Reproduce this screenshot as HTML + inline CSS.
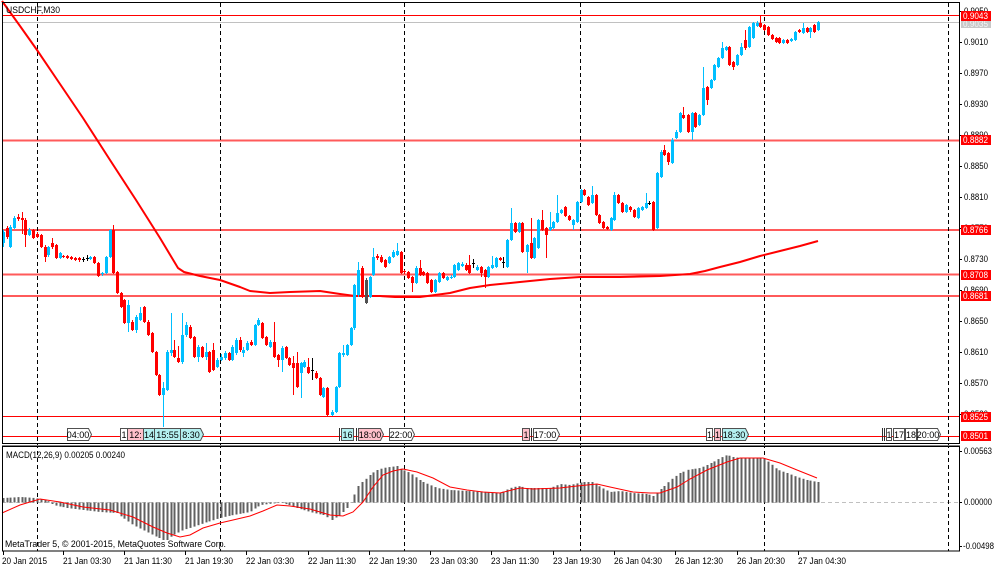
<!DOCTYPE html>
<html><head><meta charset="utf-8">
<style>
html,body{margin:0;padding:0;background:#fff;}
svg{display:block;font-family:"Liberation Sans",sans-serif;}
</style></head><body>
<svg id="c" width="1000" height="571" viewBox="0 0 1000 571" xmlns="http://www.w3.org/2000/svg">
<rect width="1000" height="571" fill="#fff"/>

<!-- horizontal level lines -->
<line x1="2" y1="22.5" x2="959" y2="22.5" stroke="#c0c0c0" stroke-width="1"/>
<line x1="2" y1="15.5" x2="959" y2="15.5" stroke="#ff0000" stroke-width="1"/>
<line x1="2" y1="140.5" x2="959" y2="140.5" stroke="#ff5a5a" stroke-width="2"/>
<line x1="2" y1="230" x2="959" y2="230" stroke="#ff5a5a" stroke-width="2"/>
<line x1="2" y1="274.5" x2="959" y2="274.5" stroke="#ff5a5a" stroke-width="2"/>
<line x1="2" y1="296" x2="959" y2="296" stroke="#ff5a5a" stroke-width="2"/>
<line x1="2" y1="416.5" x2="959" y2="416.5" stroke="#ff0000" stroke-width="1"/>
<line x1="2" y1="436.5" x2="959" y2="436.5" stroke="#ff0000" stroke-width="1"/>

<!-- MACD zero line -->
<line x1="2" y1="502.5" x2="959" y2="502.5" stroke="#c0c0c0" stroke-width="1" stroke-dasharray="4,3"/>

<!-- vertical period separators -->
<g stroke="#000" stroke-width="1" stroke-dasharray="4,3">
<line x1="37.5" y1="3" x2="37.5" y2="551"/>
<line x1="220.5" y1="3" x2="220.5" y2="551"/>
<line x1="404.5" y1="3" x2="404.5" y2="551"/>
<line x1="580.5" y1="3" x2="580.5" y2="551"/>
<line x1="764.5" y1="3" x2="764.5" y2="551"/>
<line x1="948.5" y1="3" x2="948.5" y2="551"/>
</g>

<!-- moving average -->
<polyline fill="none" stroke="#ff0000" stroke-width="2" stroke-linejoin="round" points="2,1 20,26 37,50 60,84 83,118 110,160 136,200 160,238 178,268 184,272 200,276 220,280 240,287 250,291 270,293 290,292 320,291 340,294 355,296 380,296 395,297 420,297 435,295 450,293 470,288 490,285 520,282 550,279 580,277 620,277 660,276 690,274 705,271 720,267 740,262 760,256 780,251 800,246 818,241"/>

<g id="cand"></g>
<g id="hist"></g>
<polyline id="sig" fill="none" stroke="#ff0000" stroke-width="1" points=""/>

<!-- event labels row -->
<g font-size="9" stroke-width="1" text-anchor="middle">
<path d="M67.5 428.5H88.5L91.5 434.5L88.5 440.5H67.5Z" fill="#fff" stroke="#505050"/>
<text x="78" y="438" fill="#000">04:00</text>
<rect x="120.5" y="428.5" width="7" height="12" fill="#fff" stroke="#505050"/>
<text x="124" y="438" fill="#000">1</text>
<rect x="127.5" y="428.5" width="16" height="12" fill="#ffc0cb" stroke="#505050"/>
<text x="135.5" y="438" fill="#000">12:</text>
<rect x="143.5" y="428.5" width="11" height="12" fill="#b4f0f0" stroke="#505050"/>
<text x="149" y="438" fill="#000">14</text>
<rect x="154.5" y="428.5" width="26" height="12" fill="#b4f0f0" stroke="#505050"/>
<text x="167.5" y="438" fill="#000">15:55</text>
<path d="M180.5 428.5H200.5L203.5 434.5L200.5 440.5H180.5Z" fill="#b4f0f0" stroke="#505050"/>
<text x="191" y="438" fill="#000">8:30</text>

<line x1="339.5" y1="428" x2="339.5" y2="441" stroke="#303030"/>
<rect x="341.5" y="428.5" width="12" height="12" fill="#b4f0f0" stroke="#505050"/>
<text x="347.5" y="438" fill="#000">16</text>
<line x1="356.5" y1="428" x2="356.5" y2="441" stroke="#303030"/>
<path d="M358.5 428.5H380.5L383.5 434.5L380.5 440.5H358.5Z" fill="#ffc0cb" stroke="#505050"/>
<text x="370" y="438" fill="#000">18:00</text>
<path d="M389.5 428.5H411.5L414.5 434.5L411.5 440.5H389.5Z" fill="#fff" stroke="#505050"/>
<text x="401" y="438" fill="#000">22:00</text>

<rect x="522.5" y="428.5" width="7" height="12" fill="#ffc0cb" stroke="#505050"/>
<text x="526" y="438" fill="#000">1</text>
<line x1="531.5" y1="428" x2="531.5" y2="441" stroke="#303030"/>
<path d="M533.5 428.5H556.5L559.5 434.5L556.5 440.5H533.5Z" fill="#fff" stroke="#505050"/>
<text x="545" y="438" fill="#000">17:00</text>

<rect x="706.5" y="428.5" width="6" height="12" fill="#fff" stroke="#505050"/>
<text x="709.5" y="438" fill="#000">1</text>
<rect x="714.5" y="428.5" width="6" height="12" fill="#ffc0cb" stroke="#505050"/>
<text x="717.5" y="438" fill="#000">1</text>
<path d="M722.5 428.5H745.5L748.5 434.5L745.5 440.5H722.5Z" fill="#b4f0f0" stroke="#505050"/>
<text x="734" y="438" fill="#000">18:30</text>

<line x1="882.5" y1="428" x2="882.5" y2="441" stroke="#303030"/>
<line x1="884.5" y1="428" x2="884.5" y2="441" stroke="#303030"/>
<rect x="886.5" y="428.5" width="5" height="12" fill="#fff" stroke="#505050"/>
<text x="889" y="438" fill="#000">1</text>
<rect x="893.5" y="428.5" width="11" height="12" fill="#fff" stroke="#505050"/>
<text x="899" y="438" fill="#000">17</text>
<rect x="905.5" y="428.5" width="11" height="12" fill="#fff" stroke="#505050"/>
<text x="911" y="438" fill="#000">18</text>
<path d="M917.5 428.5H937.5L940.5 434.5L937.5 440.5H917.5Z" fill="#fff" stroke="#505050"/>
<text x="928" y="438" fill="#000">20:00</text>
</g>

<!-- panel borders -->
<rect x="2.5" y="2.5" width="957" height="441" fill="none" stroke="#000" stroke-width="1"/>
<line x1="2" y1="445.5" x2="960" y2="445.5" stroke="#808080" stroke-width="1"/>
<rect x="2.5" y="446.5" width="957" height="104.5" fill="none" stroke="#000" stroke-width="1"/>

<!-- titles -->
<text x="6" y="13" font-size="9" fill="#000" textLength="54" lengthAdjust="spacingAndGlyphs">USDCHF,M30</text>
<text x="6" y="458" font-size="9" fill="#000" textLength="119" lengthAdjust="spacingAndGlyphs">MACD(12,26,9) 0.00205 0.00240</text>
<text x="5" y="547" font-size="9" fill="#000" textLength="221" lengthAdjust="spacingAndGlyphs">MetaTrader 5, © 2001-2015, MetaQuotes Software Corp.</text>

<!-- right price axis -->
<g stroke="#000" stroke-width="1">
<line x1="959" y1="11.5" x2="962" y2="11.5"/>
<line x1="959" y1="42.5" x2="962" y2="42.5"/>
<line x1="959" y1="73.5" x2="962" y2="73.5"/>
<line x1="959" y1="104.5" x2="962" y2="104.5"/>
<line x1="959" y1="135.5" x2="962" y2="135.5"/>
<line x1="959" y1="166.5" x2="962" y2="166.5"/>
<line x1="959" y1="197.5" x2="962" y2="197.5"/>
<line x1="959" y1="228.5" x2="962" y2="228.5"/>
<line x1="959" y1="259.5" x2="962" y2="259.5"/>
<line x1="959" y1="290.5" x2="962" y2="290.5"/>
<line x1="959" y1="321.5" x2="962" y2="321.5"/>
<line x1="959" y1="352.5" x2="962" y2="352.5"/>
<line x1="959" y1="383.5" x2="962" y2="383.5"/>
<line x1="959" y1="414.5" x2="962" y2="414.5"/>
<line x1="959" y1="451.5" x2="962" y2="451.5"/>
<line x1="959" y1="502.5" x2="962" y2="502.5"/>
<line x1="959" y1="546.5" x2="962" y2="546.5"/>
</g>
<g font-size="9" fill="#000">
<text x="964" y="14" textLength="24" lengthAdjust="spacingAndGlyphs">0.9050</text>
<text x="964" y="45" textLength="24" lengthAdjust="spacingAndGlyphs">0.9010</text>
<text x="964" y="76" textLength="24" lengthAdjust="spacingAndGlyphs">0.8970</text>
<text x="964" y="107" textLength="24" lengthAdjust="spacingAndGlyphs">0.8930</text>
<text x="964" y="138" textLength="24" lengthAdjust="spacingAndGlyphs">0.8890</text>
<text x="964" y="169" textLength="24" lengthAdjust="spacingAndGlyphs">0.8850</text>
<text x="964" y="200" textLength="24" lengthAdjust="spacingAndGlyphs">0.8810</text>
<text x="964" y="231" textLength="24" lengthAdjust="spacingAndGlyphs">0.8770</text>
<text x="964" y="262" textLength="24" lengthAdjust="spacingAndGlyphs">0.8730</text>
<text x="964" y="293" textLength="24" lengthAdjust="spacingAndGlyphs">0.8690</text>
<text x="964" y="324" textLength="24" lengthAdjust="spacingAndGlyphs">0.8650</text>
<text x="964" y="355" textLength="24" lengthAdjust="spacingAndGlyphs">0.8610</text>
<text x="964" y="386" textLength="24" lengthAdjust="spacingAndGlyphs">0.8570</text>
<text x="964" y="417" textLength="24" lengthAdjust="spacingAndGlyphs">0.8530</text>
<text x="964" y="454" textLength="28" lengthAdjust="spacingAndGlyphs">0.00563</text>
<text x="964" y="505" textLength="28" lengthAdjust="spacingAndGlyphs">0.00000</text>
<text x="963" y="549" textLength="31" lengthAdjust="spacingAndGlyphs">-0.00498</text>
</g>

<!-- price marker boxes -->
<g font-size="9">
<rect x="961" y="20" width="30" height="8" fill="#c8c8c8"/>
<text x="963" y="27" fill="#f4f4f4" textLength="25" lengthAdjust="spacingAndGlyphs">0.9035</text>
<rect x="961" y="11" width="30" height="10" fill="#ff0000"/>
<text x="963" y="19" fill="#fff" textLength="25" lengthAdjust="spacingAndGlyphs">0.9043</text>
<rect x="961" y="135" width="30" height="10" fill="#ff0000"/>
<text x="963" y="143" fill="#fff" textLength="25" lengthAdjust="spacingAndGlyphs">0.8882</text>
<rect x="961" y="225" width="30" height="10" fill="#ff0000"/>
<text x="963" y="233" fill="#fff" textLength="25" lengthAdjust="spacingAndGlyphs">0.8766</text>
<rect x="961" y="270" width="30" height="10" fill="#ff0000"/>
<text x="963" y="278" fill="#fff" textLength="25" lengthAdjust="spacingAndGlyphs">0.8708</text>
<rect x="961" y="291" width="30" height="10" fill="#ff0000"/>
<text x="963" y="299" fill="#fff" textLength="25" lengthAdjust="spacingAndGlyphs">0.8681</text>
<rect x="961" y="412" width="30" height="10" fill="#ff0000"/>
<text x="963" y="420" fill="#fff" textLength="25" lengthAdjust="spacingAndGlyphs">0.8525</text>
<rect x="961" y="431" width="30" height="10" fill="#ff0000"/>
<text x="963" y="439" fill="#fff" textLength="25" lengthAdjust="spacingAndGlyphs">0.8501</text>
</g>

<!-- bottom time axis -->
<g stroke="#000" stroke-width="1">
<line x1="3.5" y1="551" x2="3.5" y2="555"/>
<line x1="63.5" y1="551" x2="63.5" y2="555"/>
<line x1="124.5" y1="551" x2="124.5" y2="555"/>
<line x1="185.5" y1="551" x2="185.5" y2="555"/>
<line x1="246.5" y1="551" x2="246.5" y2="555"/>
<line x1="308.5" y1="551" x2="308.5" y2="555"/>
<line x1="369.5" y1="551" x2="369.5" y2="555"/>
<line x1="430.5" y1="551" x2="430.5" y2="555"/>
<line x1="491.5" y1="551" x2="491.5" y2="555"/>
<line x1="553.5" y1="551" x2="553.5" y2="555"/>
<line x1="614.5" y1="551" x2="614.5" y2="555"/>
<line x1="675.5" y1="551" x2="675.5" y2="555"/>
<line x1="737.5" y1="551" x2="737.5" y2="555"/>
<line x1="798.5" y1="551" x2="798.5" y2="555"/>
</g>
<g font-size="9" fill="#000">
<text x="2" y="564" textLength="45" lengthAdjust="spacingAndGlyphs">20 Jan 2015</text>
<text x="63" y="564" textLength="48" lengthAdjust="spacingAndGlyphs">21 Jan 03:30</text>
<text x="124" y="564" textLength="48" lengthAdjust="spacingAndGlyphs">21 Jan 11:30</text>
<text x="185" y="564" textLength="48" lengthAdjust="spacingAndGlyphs">21 Jan 19:30</text>
<text x="246" y="564" textLength="48" lengthAdjust="spacingAndGlyphs">22 Jan 03:30</text>
<text x="308" y="564" textLength="48" lengthAdjust="spacingAndGlyphs">22 Jan 11:30</text>
<text x="369" y="564" textLength="48" lengthAdjust="spacingAndGlyphs">22 Jan 19:30</text>
<text x="430" y="564" textLength="48" lengthAdjust="spacingAndGlyphs">23 Jan 03:30</text>
<text x="491" y="564" textLength="48" lengthAdjust="spacingAndGlyphs">23 Jan 11:30</text>
<text x="553" y="564" textLength="48" lengthAdjust="spacingAndGlyphs">23 Jan 19:30</text>
<text x="614" y="564" textLength="48" lengthAdjust="spacingAndGlyphs">26 Jan 04:30</text>
<text x="675" y="564" textLength="48" lengthAdjust="spacingAndGlyphs">26 Jan 12:30</text>
<text x="737" y="564" textLength="48" lengthAdjust="spacingAndGlyphs">26 Jan 20:30</text>
<text x="798" y="564" textLength="48" lengthAdjust="spacingAndGlyphs">27 Jan 04:30</text>
</g>
</svg>
<script>
(function(){
var C=[
[3,243,232,230,247],[7,228,237,226,239],[10,247,227,225,248],[14,228,218,216,229],[18,217,219,214,221],[22,218,220,212,234],[25,220,235,218,247],[29,235,230,228,236],[33,230,238,229,239],[37,234,237,232,238],[41,235,247,234,248],[45,247,257,245,262],[48,255,247,246,257],[52,243,247,238,249],[56,245,258,244,259],[60,258,253,252,259],[63,256,257,255,258],[67,256,258,255,259],[71,257,259,256,260],[75,258,260,257,261],[79,258,260,257,262],[83,259,259,257,262,'k'],[87,258,258,255,261,'k'],[90,259,257,256,260],[94,257,263,256,264],[98,263,276,262,277],[102,274,273,272,276],[106,273,257,256,274],[110,257,230,229,258],[113,230,273,225,274],[117,272,293,271,294],[121,293,307,292,308],[124,300,323,299,324],[128,323,305,300,332],[132,322,330,320,331],[136,330,317,315,333],[140,320,313,307,321],[144,307,322,306,323],[148,322,335,320,336],[152,333,352,332,353],[156,352,375,351,376],[159,375,395,374,396],[163,395,388,382,427],[167,390,352,350,391],[171,353,350,313,356],[174,350,357,340,358],[178,358,362,346,363],[182,362,335,313,364],[186,335,325,322,337],[190,327,338,325,339],[194,337,357,336,358],[198,357,347,345,362],[202,347,357,346,358],[206,357,352,343,360],[209,352,372,351,373],[213,350,370,343,371],[217,367,360,358,368],[221,360,357,354,361],[225,358,353,351,360],[229,353,360,352,361],[232,360,347,345,361],[236,353,340,338,355],[240,340,350,337,352],
[243,353,350,347,357],[247,350,343,341,351],[251,342,345,340,346],[255,345,325,324,346],[258,325,320,318,326],[262,323,338,322,339],[266,337,345,336,346],[270,347,342,340,348],[274,342,357,322,358],[278,355,360,354,367],[282,360,348,346,372],[286,347,358,346,359],[289,358,365,357,366],[293,363,368,356,395],[297,363,387,352,388],[301,373,363,362,398],[304,367,362,360,368],[308,367,373,358,374],[312,370,370,358,380,'k'],[316,373,378,371,379],[320,378,395,377,396],[323,397,388,387,398],[327,388,415,387,416],[332,415,412,410,416],[336,412,387,386,413],[339,387,353,352,388],[343,355,353,345,357],[347,355,345,344,356],[351,345,328,327,346],[354,328,285,284,330],[358,295,270,262,297],[362,268,297,266,298],[366,280,303,278,304,'g'],[370,297,277,276,298],[373,275,257,248,276],[377,256,258,254,260],[381,257,262,255,263],[385,260,267,259,268],[389,263,257,256,264],[393,257,252,250,258],[397,255,251,243,256],[401,252,273,251,274],[404,271,272,270,274],[408,272,278,271,279],[412,277,283,276,292],[416,283,268,266,284],[420,268,275,260,276],[423,272,275,271,276],[427,273,283,272,284],[431,280,292,279,293],[435,292,280,279,293],[439,282,273,272,283],[443,273,278,272,279],[447,280,277,276,281],[451,278,277,275,279],[454,277,265,264,278],[458,270,263,262,271],[462,266,264,262,267],[466,265,270,263,271],[469,265,273,255,274],[473,263,263,259,268,'k'],[477,270,267,265,271],
[481,267,273,266,277],[485,270,277,269,288],[488,277,267,266,278],[492,268,265,256,269],[496,267,258,257,268],[500,258,260,257,261],[503,262,262,257,268,'k'],[507,267,240,239,268],[511,240,223,208,241],[515,223,232,222,233],[519,232,223,222,233],[522,223,252,222,253],[527,252,245,244,273],[531,243,258,218,259],[534,258,238,237,259],[538,248,220,219,249],[542,220,230,210,231],[546,228,235,227,258],[550,230,227,212,231],[553,228,222,221,229],[557,222,213,195,223],[561,213,210,209,214],[565,207,216,206,217],[569,216,220,215,221],[573,225,220,219,230],[577,222,202,201,223],[581,202,190,189,203],[584,190,195,189,196],[588,197,205,196,206],[592,203,195,186,204],[596,195,215,194,216],[599,215,223,214,224],[603,222,228,221,229],[607,227,229,226,230],[611,230,218,217,231],[614,220,195,192,221],[618,195,203,194,204],[622,203,212,202,213],[626,212,205,204,213],[630,207,210,206,212],[634,210,217,209,218],[638,218,208,207,219],[642,210,207,206,211],[646,208,203,193,209],[649,203,203,201,205,'k'],[653,202,230,201,231],[657,228,173,172,229],[661,177,152,150,178],[664,150,155,145,156],[668,153,162,152,165],[672,163,140,138,164],[676,138,132,130,139],[680,132,113,112,133],[683,115,118,107,119],[688,115,132,114,133],[692,132,113,112,140],[695,113,127,112,128],[699,125,115,114,126],[703,115,88,67,116],[707,87,100,86,105],[711,88,80,79,89],[714,80,65,64,81],[718,67,58,57,68],[722,58,48,42,59],[726,50,47,46,51],[729,47,65,46,66],[733,62,67,61,70],[737,65,55,54,66],[741,55,47,43,56],[745,40,48,30,50],[749,47,27,26,48],[753,38,23,22,39],[757,26,23,21,27],[760,23,27,15,28],[764,25,30,24,31],[768,27,35,26,36],[772,35,39,34,40],[776,38,42,37,43],[779,38,43,37,44],[783,43,40,39,44],[787,40,43,39,44],[791,41,39,38,42],[795,40,32,31,41],[799,30,32,29,33],[803,33,28,23,34],[807,28,32,27,33],[810,32,28,27,38],[814,25,32,24,33],[818,30,22,21,31]
];
var s='';
for(var i=0;i<C.length;i++){
 var d=C[i],x=d[0],o=d[1],c=d[2],h=d[3],l=d[4];
 var col=c<o?'#00bfff':(c>o?'#ff0000':'#000000');
 if(d[5]==='k')col='#000000';
 if(d[5]==='g')col='#505050';
 var t=Math.min(o,c),b=Math.max(o,c);if(b-t<1)b=t+1;
 s+='<line x1="'+(x+0.5)+'" y1="'+h+'" x2="'+(x+0.5)+'" y2="'+l+'" stroke="'+col+'" stroke-width="1"/>';
 s+='<rect x="'+(x-1)+'" y="'+t+'" width="3" height="'+(b-t)+'" fill="'+col+'"/>';
}
document.getElementById('cand').innerHTML=s;

function interp(P,x){
 if(x<=P[0][0])return P[0][1];
 for(var i=1;i<P.length;i++){if(x<=P[i][0]){var a=P[i-1],b=P[i];return a[1]+(b[1]-a[1])*(x-a[0])/(b[0]-a[0]);}}
 return P[P.length-1][1];
}
var H=[[3,498],[20,497],[35,498],[45,500],[50,502],[53,505],[67,508],[83,510],[100,512],[117,513],[123,518],[133,525],[143,530],[153,535],[163,540],[167,540],[173,535],[183,530],[193,527],[207,522],[220,518],[233,515],[250,512],[260,505],[277,503],[283,503],[297,508],[310,512],[323,515],[332,520],[340,515],[347,508],[351,502],[357,487],[362,482],[367,478],[372,473],[377,470],[383,468],[390,467],[397,466],[403,470],[410,473],[417,478],[423,482],[430,485],[437,488],[450,490],[467,491],[483,492],[500,493],[510,488],[518,486],[527,488],[550,488],[560,484],[570,485],[583,482],[593,482],[600,487],[610,492],[620,491],[633,493],[647,494],[653,496],[660,490],[667,483],[673,478],[680,473],[687,470],[693,469],[700,468],[707,465],[713,462],[720,458],[727,455],[733,457],[740,458],[763,458],[770,463],[778,470],[787,473],[797,477],[807,480],[817,482]];
var hs='';
for(var j=0;j<C.length;j++){
 var x=C[j][0];var y=interp(H,x);
 var t=Math.min(y,502.5),b=Math.max(y,502.5);if(b-t<0.5)continue;
 hs+='<rect x="'+(x-0.5)+'" y="'+t.toFixed(1)+'" width="2" height="'+(b-t).toFixed(1)+'" fill="#606060"/>';
}
document.getElementById('hist').innerHTML=hs;

var S=[[2,513],[20,505],[40,499],[60,502],[83,507],[110,510],[133,517],[153,527],[167,533],[180,537],[190,535],[203,528],[220,523],[233,520],[250,516],[263,511],[277,505],[290,506],[310,509],[330,515],[343,516],[353,512],[363,502],[373,487],[383,475],[393,471],[403,469],[417,472],[433,478],[450,487],[467,490],[483,492],[500,493],[520,488],[533,489],[560,488],[577,486],[597,484],[610,487],[633,492],[650,493],[660,493],[677,487],[690,479],[707,470],[727,462],[740,458],[763,458],[780,463],[797,470],[817,478]];
var p=[];for(var k=0;k<S.length;k++)p.push(S[k][0]+','+S[k][1]);
document.getElementById('sig').setAttribute('points',p.join(' '));
})();
</script>
</body></html>
